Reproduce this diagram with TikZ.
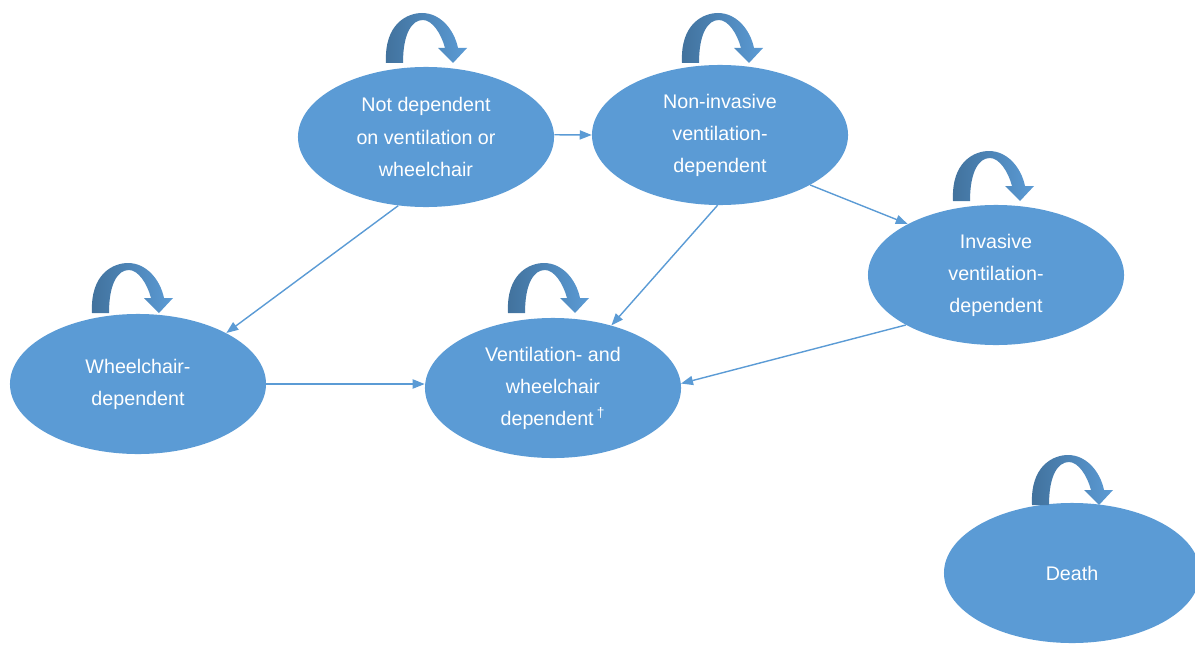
\documentclass[tikz,border=0pt]{standalone}
\usepackage{fontspec}
\setmainfont{Liberation Sans}
\usetikzlibrary{shapes.geometric,arrows.meta}
\definecolor{stateblue}{HTML}{5B9BD5}
\definecolor{loopdark}{HTML}{41719C}
\tikzset{
    state/.style={ellipse, fill=stateblue, text=white, inner sep=0pt,
        minimum width=6.4cm, minimum height=3.5cm, align=center,
        font=\fontsize{14}{22.8}\selectfont},
    trans/.style={draw=stateblue, line width=1pt, -{Triangle[length=8.5pt,width=6.5pt]}}
}
% curved block arrow above a state, (#1,#2) = left foot
\newcommand{\selfloop}[2]{
    \shade[left color=loopdark, right color=stateblue, shift={(#1,#2)}]
        (0,0) .. controls (-2,-40) and (22,-50) .. (36,-50)
        .. controls (54,-50) and (68,-34) .. (72,-15)
        -- (81,-15) -- (67,0) -- (52,-15) -- (59,-15)
        .. controls (55,-30) and (46,-43) .. (37,-43)
        .. controls (26,-43) and (17,-30) .. (17,0) -- cycle;
}
\begin{document}
\begin{tikzpicture}[x=0.025cm, y=-0.025cm]
    \useasboundingbox (0,0) rectangle (1195,644);

    % states
    \node [state] (nd) at (426,137) {Not dependent\\on ventilation or\\wheelchair};
    \node [state] (ni) at (720,135) {Non-invasive\\ventilation-\\dependent};
    \node [state] (iv) at (996,275) {Invasive\\ventilation-\\dependent};
    \node [state] (wc) at (138,384) {Wheelchair-\\dependent};
    \node [state] (vw) at (553,388) {Ventilation- and\\wheelchair\\dependent\,\textsuperscript{†}};
    \node [state] (de) at (1072,573) {Death};

    % staying in the same state
    \selfloop{386}{63}
    \selfloop{682}{63}
    \selfloop{953}{201}
    \selfloop{92}{313}
    \selfloop{508}{313}
    \selfloop{1032}{505}

    % transitions
    \draw [trans] (nd.1) -- (ni.180);
    \draw [trans] (nd.248) -- (wc.30);
    \draw [trans] (ni.268) -- (vw.47);
    \draw [trans] (ni.331) -- (iv.150);
    \draw [trans] (wc.east) -- (vw.west |- wc.east);
    \draw [trans] (iv.209) -- (vw.2);
\end{tikzpicture}
\end{document}
